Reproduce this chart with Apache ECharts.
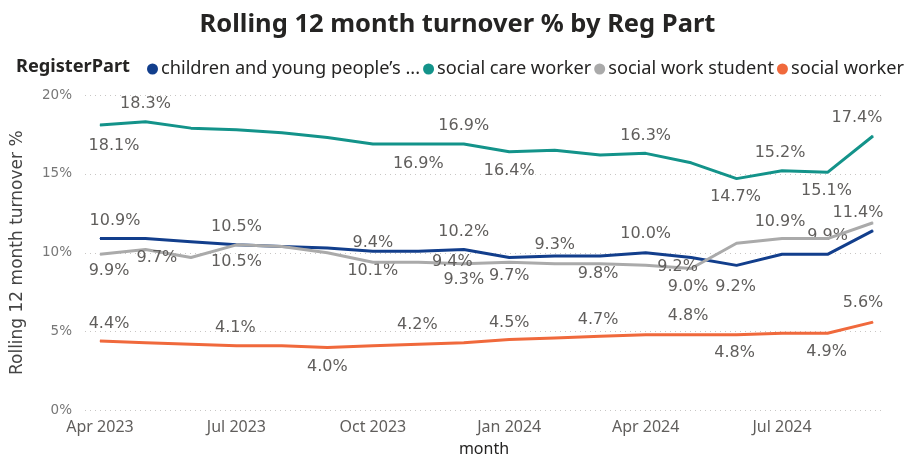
<!DOCTYPE html>
<html>
<head>
<meta charset="utf-8">
<script src="https://cdn.jsdelivr.net/npm/echarts@6/dist/echarts.min.js"></script>
<style>
  html, body { margin: 0; padding: 0; background: #ffffff; }
  #chart { width: 915px; height: 458px; }
</style>
</head>
<body>
<div id="chart"></div>
<script>
// Monthly rolling 12-month turnover (%) per register part
const months = ['Apr 2023', 'May 2023', 'Jun 2023', 'Jul 2023', 'Aug 2023', 'Sep 2023',
  'Oct 2023', 'Nov 2023', 'Dec 2023', 'Jan 2024', 'Feb 2024', 'Mar 2024',
  'Apr 2024', 'May 2024', 'Jun 2024', 'Jul 2024', 'Aug 2024', 'Sep 2024'];
const tickLabels = ['Apr 2023', 'Jul 2023', 'Oct 2023', 'Jan 2024', 'Apr 2024', 'Jul 2024'];

const seriesNames = ['children and young people’s ...', 'social care worker', 'social work student', 'social worker'];
const childrenYoungPeople = [10.9, 10.9, 10.7, 10.5, 10.4, 10.3, 10.1, 10.1, 10.2, 9.7, 9.8, 9.8, 10.0, 9.7, 9.2, 9.9, 9.9, 11.4];
const socialCareWorker    = [18.1, 18.3, 17.9, 17.8, 17.6, 17.3, 16.9, 16.9, 16.9, 16.4, 16.5, 16.2, 16.3, 15.7, 14.7, 15.2, 15.1, 17.4];
const socialWorkStudent   = [9.9, 10.2, 9.7, 10.5, 10.4, 10.0, 9.4, 9.4, 9.3, 9.4, 9.3, 9.3, 9.2, 9.0, 10.6, 10.9, 10.9, 11.9];
const socialWorker        = [4.4, 4.3, 4.2, 4.1, 4.1, 4.0, 4.1, 4.2, 4.3, 4.5, 4.6, 4.7, 4.8, 4.8, 4.8, 4.9, 4.9, 5.6];

// Which points carry a value label, and where the label sits: [month index, dx, dy]
const labelSpots = [
  [[0, 15, -18], [3, 0, -18], [6, 0, 20], [8, 0, -18], [9, 0, 18], [11, -2, 18], [12, 0, -19], [14, -1, 21], [16, 0, -18], [17, -15, -18]],
  [[0, 14, 21], [1, 0, -18], [7, 0, 20], [8, 0, -18], [9, 0, 19], [12, 0, -18], [14, -1, 18], [15, -2, -18], [16, -1, 19], [17, -16, -18]],
  [[0, 9, 17], [2, -34, 0], [3, 0, 17], [6, 0, -19], [7, 34, 0], [8, 0, 16], [10, 0, -19], [12, 32, 1], [13, -3, 18], [15, -2, -17]],
  [[0, 9, -17], [3, -1, -18], [5, 0, 19], [7, -1, -19], [9, 0, -17], [11, -2, -17], [13, -3, -19], [14, -2, 18], [16, -1, 19], [17, -10, -19]]
];
const colors = ['#123E8C', '#13938A', '#AAAAAA', '#F0693C'];
const valueSets = [childrenYoungPeople, socialCareWorker, socialWorkStudent, socialWorker];

const labelFont = '"DejaVu Sans", Verdana, sans-serif';
const uiFont = '"Noto Sans", "Open Sans", sans-serif';

function buildData(values, spots) {
  const spotMap = {};
  spots.forEach(s => { spotMap[s[0]] = [s[1], s[2]]; });
  return values.map((v, i) => {
    const item = { value: [i, v] };
    if (spotMap[i]) {
      item.label = { show: true, offset: spotMap[i] };
    }
    return item;
  });
}

const series = valueSets.map((vals, k) => ({
  name: seriesNames[k],
  type: 'line',
  data: buildData(vals, labelSpots[k]),
  symbol: 'circle',
  symbolSize: 1,
  showSymbol: true,
  lineStyle: { width: 3, color: colors[k] },
  itemStyle: { color: colors[k] },
  emphasis: { disabled: true },
  label: {
    show: false,
    position: 'inside',
    formatter: p => p.value[1].toFixed(1) + '%',
    fontFamily: labelFont,
    fontSize: 16,
    color: '#605E5C'
  },
  z: 2 + k
}));

const chart = echarts.init(document.getElementById('chart'), null, { renderer: 'canvas' });
chart.setOption({
  animation: false,
  color: colors,
  title: [
    {
      text: 'Rolling 12 month turnover % by Reg Part',
      left: 'center',
      top: 7,
      textStyle: { fontFamily: uiFont, fontSize: 25.5, fontWeight: 'bold', color: '#252423' }
    },
    {
      text: 'RegisterPart',
      left: 11,
      top: 53,
      textStyle: { fontFamily: uiFont, fontSize: 18.2, fontWeight: 'bold', color: '#252423' }
    }
  ],
  legend: {
    left: 142,
    top: 55,
    width: 790,
    icon: 'circle',
    itemWidth: 11,
    itemHeight: 11,
    itemGap: 3,
    textStyle: { fontFamily: uiFont, fontSize: 18.2, color: '#252423', padding: [0, 0, 0, -2] },
    data: seriesNames
  },
  grid: { left: 85, right: 32, top: 95, bottom: 47.5, outerBoundsMode: 'none', containLabel: false },
  xAxis: {
    type: 'value',
    min: -0.33,
    max: 17.22,
    name: 'month',
    nameLocation: 'middle',
    nameGap: 31,
    nameTextStyle: { fontFamily: uiFont, fontSize: 16, color: '#252423' },
    axisLine: { show: false },
    axisTick: { show: false },
    splitLine: { show: false },
    axisLabel: {
      customValues: tickLabels.map(t => months.indexOf(t)),
      formatter: v => months[Math.round(v)],
      fontFamily: uiFont,
      fontSize: 16,
      color: '#605E5C',
      margin: 9
    }
  },
  yAxis: {
    type: 'value',
    min: 0,
    max: 20,
    interval: 5,
    name: 'Rolling 12 month turnover %',
    nameLocation: 'middle',
    nameGap: 59,
    nameTextStyle: { fontFamily: labelFont, fontSize: 17, color: '#444444' },
    axisLine: { show: false },
    axisTick: { show: false },
    axisLabel: {
      formatter: '{value}%',
      fontFamily: labelFont,
      fontSize: 13.5,
      color: '#777777',
      margin: 13
    },
    splitLine: { lineStyle: { type: [1, 4], color: '#C8C6C4', width: 1 } }
  },
  series: series
});
</script>
</body>
</html>
